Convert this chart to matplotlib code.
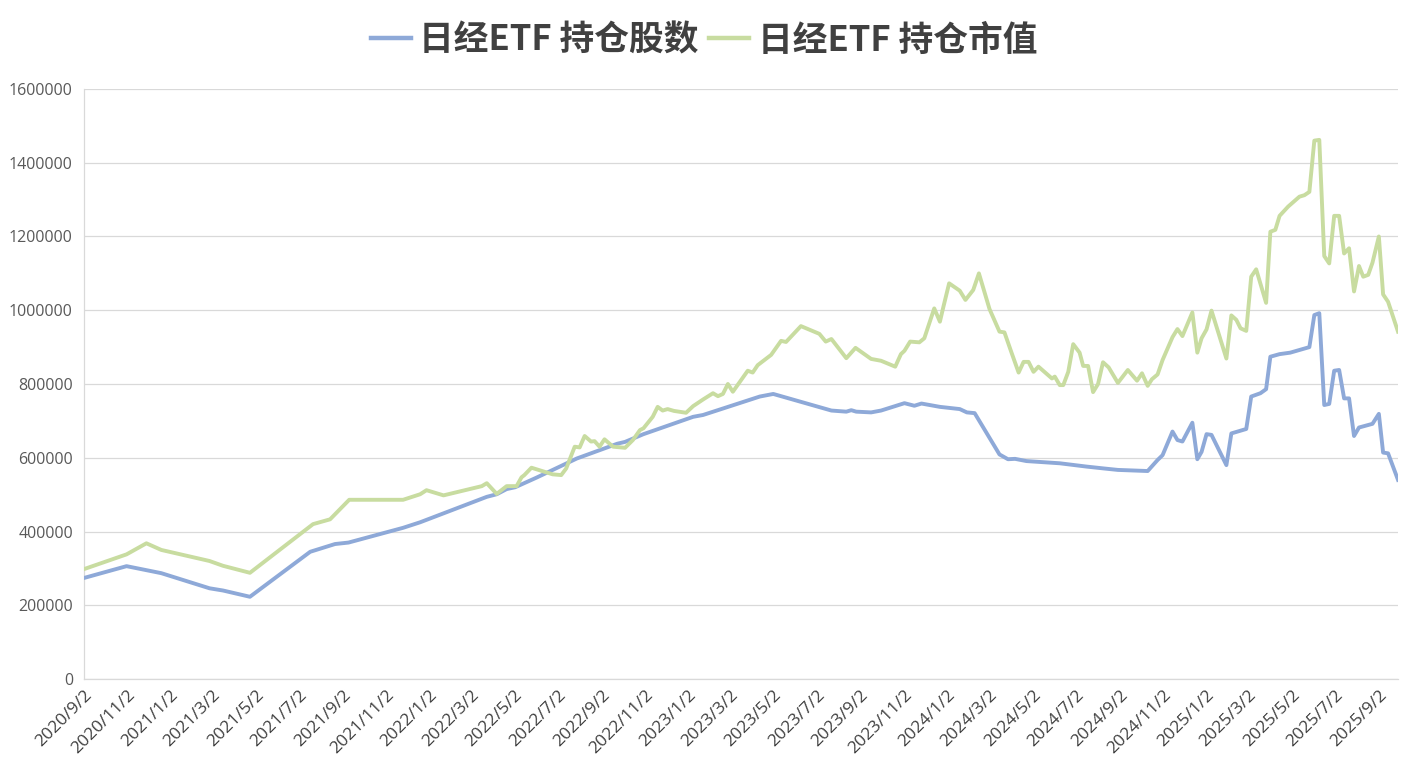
import matplotlib
matplotlib.use("Agg")
import matplotlib.pyplot as plt
import matplotlib.dates as mdates
import matplotlib.ticker as mticker
import pandas as pd

plt.rcParams['font.family'] = ['Noto Sans CJK SC', 'DejaVu Sans']

# 日经ETF 持仓股数
shares_dates = [
    "2020-09-02", "2020-11-01", "2020-12-20", "2021-02-26", "2021-03-17", "2021-04-24",
    "2021-07-18", "2021-08-22", "2021-09-10", "2021-11-26", "2021-12-20", "2022-03-24",
    "2022-04-07", "2022-04-21", "2022-05-03", "2022-06-02", "2022-07-29", "2022-09-24",
    "2022-10-05", "2022-10-31", "2023-01-09", "2023-01-23", "2023-04-13", "2023-05-02",
    "2023-07-23", "2023-08-13", "2023-08-20", "2023-08-27", "2023-09-17", "2023-10-01",
    "2023-11-03", "2023-11-17", "2023-11-27", "2023-12-23", "2024-01-20", "2024-01-30",
    "2024-02-10", "2024-03-16", "2024-03-28", "2024-04-07", "2024-04-23", "2024-06-09",
    "2024-07-17", "2024-08-10", "2024-08-30", "2024-10-11", "2024-10-25", "2024-11-01",
    "2024-11-15", "2024-11-22", "2024-11-29", "2024-12-13", "2024-12-20", "2024-12-26",
    "2025-01-02", "2025-01-09", "2025-01-30", "2025-02-06", "2025-02-27", "2025-03-06",
    "2025-03-19", "2025-03-27", "2025-04-02", "2025-04-15", "2025-04-30", "2025-05-27",
    "2025-06-03", "2025-06-10", "2025-06-17", "2025-06-24", "2025-07-01", "2025-07-08",
    "2025-07-15", "2025-07-22", "2025-07-29", "2025-08-05", "2025-08-24", "2025-09-02",
    "2025-09-08", "2025-09-15", "2025-09-29",
]
shares_values = [
    274000, 306000, 287000, 246000, 240000, 223000,
    345000, 366000, 370000, 410000, 425000, 494000,
    501000, 515000, 520000, 546000, 598000, 638000,
    643000, 664000, 711000, 716000, 766000, 773000,
    728000, 725000, 729000, 725000, 723000, 728000,
    748000, 741000, 747000, 738000, 732000, 723000,
    721000, 609000, 596000, 597000, 591000, 585000,
    576000, 571000, 567000, 564000, 594000, 607000,
    671000, 648000, 644000, 695000, 596000, 616000,
    664000, 662000, 580000, 666000, 678000, 766000,
    775000, 786000, 874000, 881000, 885000, 900000,
    987000, 992000, 743000, 746000, 836000, 838000,
    761000, 761000, 659000, 682000, 692000, 719000,
    614000, 612000, 540000,
]

# 日经ETF 持仓市值
value_dates = [
    "2020-09-02", "2020-11-01", "2020-11-29", "2020-12-20", "2021-02-26", "2021-03-17",
    "2021-04-24", "2021-07-22", "2021-08-15", "2021-09-11", "2021-11-26", "2021-12-20",
    "2021-12-29", "2022-01-22", "2022-03-17", "2022-03-24", "2022-04-07", "2022-04-21",
    "2022-05-05", "2022-05-12", "2022-05-16", "2022-05-26", "2022-06-25", "2022-07-07",
    "2022-07-14", "2022-07-26", "2022-08-02", "2022-08-09", "2022-08-18", "2022-08-23",
    "2022-08-30", "2022-09-06", "2022-09-18", "2022-10-05", "2022-10-16", "2022-10-26",
    "2022-10-31", "2022-11-13", "2022-11-20", "2022-11-27", "2022-12-04", "2022-12-13",
    "2022-12-30", "2023-01-09", "2023-01-23", "2023-02-06", "2023-02-13", "2023-02-20",
    "2023-02-27", "2023-03-06", "2023-03-27", "2023-04-03", "2023-04-10", "2023-04-29",
    "2023-05-13", "2023-05-20", "2023-06-10", "2023-07-06", "2023-07-15", "2023-07-23",
    "2023-08-13", "2023-08-26", "2023-09-17", "2023-10-01", "2023-10-21", "2023-10-29",
    "2023-11-03", "2023-11-11", "2023-11-24", "2023-12-01", "2023-12-15", "2023-12-23",
    "2023-12-28", "2024-01-05", "2024-01-20", "2024-01-28", "2024-02-08", "2024-02-16",
    "2024-03-02", "2024-03-16", "2024-03-23", "2024-04-02", "2024-04-12", "2024-04-19",
    "2024-04-26", "2024-05-03", "2024-05-10", "2024-05-29", "2024-06-02", "2024-06-09",
    "2024-06-14", "2024-06-21", "2024-06-28", "2024-07-07", "2024-07-12", "2024-07-19",
    "2024-07-26", "2024-08-02", "2024-08-09", "2024-08-17", "2024-08-30", "2024-09-13",
    "2024-09-26", "2024-10-03", "2024-10-11", "2024-10-17", "2024-10-25", "2024-11-01",
    "2024-11-15", "2024-11-22", "2024-11-29", "2024-12-13", "2024-12-20", "2024-12-26",
    "2025-01-02", "2025-01-09", "2025-01-30", "2025-02-06", "2025-02-13", "2025-02-19",
    "2025-02-27", "2025-03-06", "2025-03-13", "2025-03-27", "2025-04-02", "2025-04-09",
    "2025-04-15", "2025-04-27", "2025-05-13", "2025-05-20", "2025-05-27", "2025-06-03",
    "2025-06-10", "2025-06-17", "2025-06-24", "2025-07-01", "2025-07-08", "2025-07-15",
    "2025-07-22", "2025-07-29", "2025-08-05", "2025-08-11", "2025-08-18", "2025-08-24",
    "2025-09-02", "2025-09-08", "2025-09-15", "2025-09-29",
]
value_values = [
    298000, 338000, 368000, 350000, 320000, 307000,
    288000, 420000, 433000, 486000, 486000, 501000,
    512000, 498000, 523000, 531000, 502000, 523000,
    523000, 547000, 553000, 573000, 555000, 553000,
    571000, 630000, 628000, 659000, 644000, 645000,
    630000, 650000, 630000, 627000, 648000, 675000,
    680000, 711000, 738000, 728000, 732000, 727000,
    722000, 740000, 758000, 775000, 767000, 773000,
    800000, 779000, 836000, 831000, 851000, 879000,
    917000, 914000, 957000, 936000, 915000, 922000,
    870000, 898000, 868000, 863000, 847000, 881000,
    890000, 915000, 913000, 924000, 1005000, 969000,
    1010000, 1073000, 1053000, 1028000, 1055000, 1100000,
    1003000, 942000, 940000, 885000, 831000, 860000,
    860000, 833000, 847000, 815000, 820000, 797000,
    797000, 833000, 908000, 885000, 849000, 849000,
    778000, 800000, 859000, 845000, 803000, 838000,
    809000, 829000, 795000, 813000, 826000, 865000,
    927000, 949000, 930000, 994000, 885000, 924000,
    948000, 999000, 869000, 986000, 974000, 951000,
    944000, 1091000, 1111000, 1020000, 1213000, 1218000,
    1256000, 1281000, 1308000, 1312000, 1321000, 1460000,
    1462000, 1147000, 1127000, 1256000, 1256000, 1154000,
    1168000, 1051000, 1120000, 1091000, 1096000, 1129000,
    1200000, 1043000, 1023000, 942000,
]

y_ticks = [0, 200000, 400000, 600000, 800000, 1000000, 1200000, 1400000, 1600000]

shares_x = pd.to_datetime(shares_dates)
value_x = pd.to_datetime(value_dates)
tick_dates = pd.date_range("2020-09-01", "2025-09-01", freq="2MS") + pd.Timedelta(days=1)

fig = plt.figure(figsize=(14.08, 7.68), dpi=100)
ax = fig.add_axes([84 / 1408, 1 - 679 / 768, (1398 - 84) / 1408, (679 - 89) / 768])

blue = "#8EA9D8"
green = "#C8DCA0"
ax.plot(shares_x, shares_values, color=blue, lw=2.8, label="日经ETF 持仓股数",
        solid_joinstyle="round", zorder=3)
ax.plot(value_x, value_values, color=green, lw=2.8, label="日经ETF 持仓市值",
        solid_joinstyle="round", zorder=3)

ax.set_ylim(0, 1600000)
ax.set_yticks(y_ticks)
ax.yaxis.set_major_formatter(mticker.FuncFormatter(lambda v, p: f"{int(v)}"))
ax.set_xlim(shares_x[0], shares_x[-1])
ax.set_xticks(tick_dates)
ax.set_xticklabels([f"{d.year}/{d.month}/{d.day}" for d in tick_dates],
                   rotation=45, ha="right", rotation_mode="anchor")

ax.grid(axis="y", color="#D9D9D9", lw=0.9)
ax.set_axisbelow(True)
for s in ["top", "right"]:
    ax.spines[s].set_visible(False)
for s in ["left", "bottom"]:
    ax.spines[s].set_color("#D9D9D9")
    ax.spines[s].set_linewidth(0.9)

ax.tick_params(axis="both", length=0)
ax.tick_params(axis="y", pad=8, labelsize=11.5, labelcolor="#595959")
ax.tick_params(axis="x", pad=6, labelsize=12.5, labelcolor="#404040")
for lab in ax.get_xticklabels() + ax.get_yticklabels():
    lab.set_family(["Open Sans", "DejaVu Sans"])

leg = fig.legend(loc="center", bbox_to_anchor=(0.5, 1 - 40 / 768), ncol=2, frameon=False,
                 handlelength=1.15, handletextpad=0.25, columnspacing=0.3,
                 prop={"size": 25, "weight": "bold", "style": "italic"})
for t in leg.get_texts():
    t.set_color("#404040")
for h in leg.get_lines():
    h.set_linewidth(3.2)

fig.savefig("out.png", dpi=100)
